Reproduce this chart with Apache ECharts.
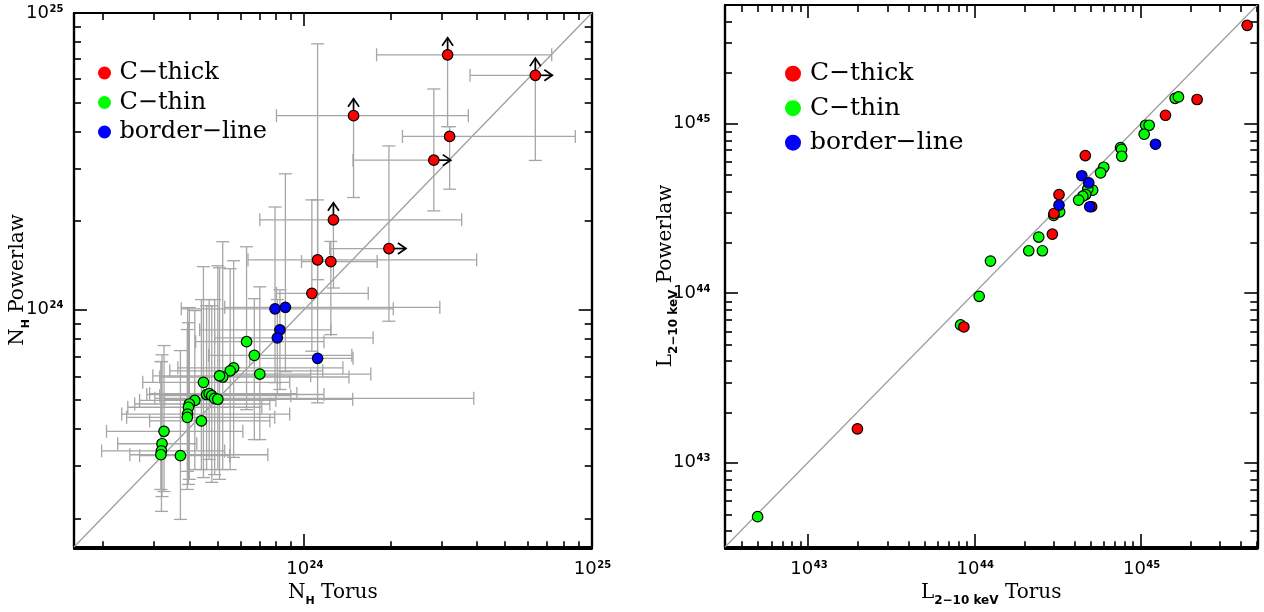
<!DOCTYPE html>
<html><head><meta charset="utf-8">
<script src="https://cdn.jsdelivr.net/npm/echarts@6/dist/echarts.min.js"></script>
<style>html,body{margin:0;padding:0;background:#fff}#c{width:1264px;height:612px}</style>
</head><body><div id="c"></div>
<script>
// ===== Left panel: log10 N_H [cm^-2], Torus model (x) vs Powerlaw (y) =====
const nhRange = [23.2, 25];
const nhMajorTicks = [24, 25];
const nhTickLabels = ['24', '25'];   // shown as 10^24, 10^25
const nhMinorTickValues = [2e23,3e23,4e23,5e23,6e23,7e23,8e23,9e23,2e24,3e24,4e24,5e24,6e24,7e24,8e24,9e24];

const nhThickTorus = [24.499, 24.804, 24.172, 24.506, 24.451, 24.102, 24.295, 24.047, 24.093, 24.027];
const nhThickPow   = [24.859, 24.790, 24.654, 24.584, 24.504, 24.303, 24.206, 24.168, 24.162, 24.055];
// [low, high]; null high = lower limit (arrow)
const nhThickTorusErr = [[24.252,24.861],[24.577,null],[23.904,24.571],[24.342,24.943],[24.170,null],[23.846,24.548],[24.089,null],[23.805,24.600],[23.991,24.254],[23.904,24.223]];
const nhThickPowErr   = [[24.617,null],[24.503,null],[24.378,null],[24.406,24.617],[24.333,24.744],[24.073,null],[23.961,24.552],[24.101,24.370],[23.916,24.230],[23.860,24.370]];

const nhThinTorus = [23.800,23.827,23.846,23.755,23.743,23.717,23.706,23.650,23.661,23.670,23.679,23.689,23.700,23.620,23.601,23.598,23.595,23.594,23.643,23.513,23.506,23.504,23.502,23.570];
const nhThinPow   = [23.892,23.846,23.783,23.804,23.794,23.773,23.777,23.755,23.714,23.717,23.710,23.701,23.698,23.694,23.682,23.671,23.648,23.637,23.625,23.590,23.548,23.524,23.511,23.508];
const nhThinTorusErr = [[23.623,24.069],[23.668,24.166],[23.717,24.232],[23.561,24.135],[23.533,24.065],[23.498,24.156],[23.474,24.023],[23.439,23.950],[23.453,24.069],[23.463,23.975],[23.498,23.954],[23.481,24.590],[23.515,24.169],[23.428,23.902],[23.411,23.881],[23.387,23.853],[23.366,23.950],[23.383,23.898],[23.463,23.881],[23.313,23.787],[23.352,23.627],[23.296,23.724],[23.394,23.874],[23.428,23.741]];
const nhThinPowErr   = [[23.663,24.212],[23.562,24.037],[23.562,24.077],[23.502,24.165],[23.461,24.138],[23.461,24.229],[23.428,24.141],[23.434,24.145],[23.461,24.013],[23.495,24.034],[23.418,24.013],[23.444,24.034],[23.461,24.148],[23.461,23.997],[23.428,24.007],[23.411,23.956],[23.455,24.007],[23.394,23.933],[23.461,24.034],[23.387,23.879],[23.370,23.848],[23.320,23.825],[23.394,23.825],[23.293,23.862]];

const nhBorderTorus = [23.899, 23.935, 23.916, 23.907, 24.047];
const nhBorderPow   = [24.003, 24.008, 23.932, 23.905, 23.836];
const nhBorderTorusErr = [[23.573,24.310],[23.724,24.472],[23.637,24.093],[23.689,24.240],[23.811,24.170]];
const nhBorderPowErr   = [[23.754,24.346],[23.791,24.458],[23.731,24.067],[23.714,24.034],[23.686,24.896]];

// ===== Right panel: log10 L(2-10 keV) [erg/s], Torus (x) vs Powerlaw (y) =====
const lRange = [42.5, 45.7];
const lMajorTicks = [43, 44, 45];
const lTickLabels = ['43', '44', '45'];
const lMinorTickValues = [4e42,5e42,6e42,7e42,8e42,9e42,2e43,3e43,4e43,5e43,6e43,7e43,8e43,9e43,2e44,3e44,4e44,5e44,6e44,7e44,8e44,9e44,2e45,3e45,4e45,5e45];

const lThickTorus = [45.639, 45.338, 45.148, 44.666, 44.508, 44.478, 44.468, 44.704, 43.936, 43.296];
const lThickPow   = [45.580, 45.142, 45.049, 44.811, 44.581, 44.469, 44.347, 44.509, 43.799, 43.198];
const lThinTorus = [45.206,45.226,45.029,45.050,45.020,44.878,44.884,44.885,44.777,44.758,44.710,44.681,44.668,44.651,44.626,44.512,44.476,44.386,44.326,44.408,44.096,44.028,43.916,42.696];
const lThinPow   = [45.149,45.157,44.990,44.990,44.937,44.858,44.848,44.807,44.742,44.709,44.607,44.615,44.581,44.571,44.548,44.479,44.458,44.330,44.249,44.249,44.188,43.980,43.811,42.679];
const lBorderTorus = [45.088, 44.645, 44.687, 44.693, 44.508];
const lBorderPow   = [44.878, 44.692, 44.650, 44.509, 44.518];

const classNames = ['C-thick', 'C-thin', 'border-line'];
const COLORS = {'C-thick': '#ff0000', 'C-thin': '#00ff00', 'border-line': '#0000ff'};

// ===== build =====
const ERR_COLOR = '#a6a6a6';
const SERIF = 'DejaVu Serif';
const nhMinorTicks = nhMinorTickValues.map(v => Math.log10(v));
const lMinorTicks = lMinorTickValues.map(v => Math.log10(v));

function mkAxis(gridIndex, position, range, tickVals, tickLen, label) {
  const ax = {
    type: 'value', gridIndex, position, min: range[0], max: range[1],
    axisLine: {show: true, onZero: false, lineStyle: {color: '#000', width: 2.2}},
    axisTick: {show: true, inside: true, length: tickLen, customValues: tickVals, lineStyle: {color: '#000', width: 1.6}},
    axisLabel: {show: false},
    splitLine: {show: false}, minorTick: {show: false}, minorSplitLine: {show: false}
  };
  if (label) {
    ax.name = label.name; ax.nameLocation = 'middle'; ax.nameGap = label.nameGap;
    ax.nameTextStyle = {fontFamily: SERIF, fontSize: 20, color: '#000', lineHeight: 28,
      rich: {h: {fontFamily: 'DejaVu Sans', fontWeight: 'bold', fontSize: label.subSize, lineHeight: 12, verticalAlign: 'bottom', color: '#000'}}};
  }
  return ax;
}
const SUBL = '2\u221210 keV';
const xAxes = [
  mkAxis(0, 'bottom', nhRange, nhMajorTicks, 13, {name: 'N{h|H} Torus', nameGap: 32, subSize: 11}),
  mkAxis(0, 'top', nhRange, nhMajorTicks, 13, null),
  mkAxis(1, 'bottom', nhRange, nhMinorTicks, 7, null),
  mkAxis(1, 'top', nhRange, nhMinorTicks, 7, null),
  mkAxis(2, 'bottom', lRange, lMajorTicks, 13, {name: 'L{h|' + SUBL + '} Torus', nameGap: 32, subSize: 12}),
  mkAxis(2, 'top', lRange, lMajorTicks, 13, null),
  mkAxis(3, 'bottom', lRange, lMinorTicks, 7, null),
  mkAxis(3, 'top', lRange, lMinorTicks, 7, null)
];
const yAxes = [
  mkAxis(0, 'left', nhRange, nhMajorTicks, 13, {name: 'N{h|H} Powerlaw', nameGap: 42, subSize: 11}),
  mkAxis(0, 'right', nhRange, nhMajorTicks, 13, null),
  mkAxis(1, 'left', nhRange, nhMinorTicks, 7, null),
  mkAxis(1, 'right', nhRange, nhMinorTicks, 7, null),
  mkAxis(2, 'left', lRange, lMajorTicks, 13, {name: 'L{h|' + SUBL + '} Powerlaw', nameGap: 45, subSize: 12}),
  mkAxis(2, 'right', lRange, lMajorTicks, 13, null),
  mkAxis(3, 'left', lRange, lMinorTicks, 7, null),
  mkAxis(3, 'right', lRange, lMinorTicks, 7, null)
];

// tick labels "10^n" placed at the major tick positions via the axis scale
const BASE_FONT = {font: 'normal 18px "DejaVu Sans", sans-serif', fontSize: 18, fontFamily: 'DejaVu Sans', fill: '#000'};
const SUP_FONT = {font: 'bold 10px "DejaVu Sans", sans-serif', fontSize: 10, fontWeight: 'bold', fontFamily: 'DejaVu Sans', fill: '#000'};
function tickLabelSeries(axisIdx, range, ticks, labels, xMargin, yMargin) {
  return {
    type: 'custom', xAxisIndex: axisIdx, yAxisIndex: axisIdx, z: 5, silent: true, clip: false,
    data: ticks.map((t, i) => [t, t, i]),
    renderItem: (params, api) => {
      const i = params.dataIndex;
      const t = ticks[i];
      const px = api.coord([t, range[0]]);
      const py = api.coord([range[0], t]);
      const sup = labels[i];
      const bx = px[0] + 5, by = px[1] + xMargin;   // x-axis label (centred under tick)
      const lx = py[0] - yMargin - 13, ly = py[1];  // y-axis label
      return {type: 'group', children: [
        {type: 'text', x: bx, y: by + 10, style: Object.assign({text: '10', align: 'right', verticalAlign: 'middle'}, BASE_FONT)},
        {type: 'text', x: bx + 0.5, y: by + 6, style: Object.assign({text: sup, align: 'left', verticalAlign: 'middle'}, SUP_FONT)},
        {type: 'text', x: lx, y: ly, style: Object.assign({text: '10', align: 'right', verticalAlign: 'middle'}, BASE_FONT)},
        {type: 'text', x: lx + 0.5, y: ly - 4, style: Object.assign({text: sup, align: 'left', verticalAlign: 'middle'}, SUP_FONT)}
      ]};
    }
  };
}

function errSeries(axisIdx, xs, ys, xErr, yErr) {
  const cap = 6.5;
  return {
    type: 'custom', xAxisIndex: axisIdx, yAxisIndex: axisIdx, z: 2, silent: true, clip: false,
    data: xs.map((x, i) => [x, ys[i]]),
    renderItem: (params, api) => {
      const i = params.dataIndex;
      const x = xs[i], y = ys[i];
      const p = api.coord([x, y]);
      const st = {stroke: ERR_COLOR, lineWidth: 1.3, fill: null};
      const els = [];
      const [xl, xh] = xErr[i], [yl, yh] = yErr[i];
      const a = xl == null ? p : api.coord([xl, y]);
      const b = xh == null ? p : api.coord([xh, y]);
      els.push({type: 'line', shape: {x1: a[0], y1: a[1], x2: b[0], y2: b[1]}, style: st});
      if (xl != null) els.push({type: 'line', shape: {x1: a[0], y1: a[1] - cap, x2: a[0], y2: a[1] + cap}, style: st});
      if (xh != null) els.push({type: 'line', shape: {x1: b[0], y1: b[1] - cap, x2: b[0], y2: b[1] + cap}, style: st});
      const c = yl == null ? p : api.coord([x, yl]);
      const d = yh == null ? p : api.coord([x, yh]);
      els.push({type: 'line', shape: {x1: c[0], y1: c[1], x2: d[0], y2: d[1]}, style: st});
      if (yl != null) els.push({type: 'line', shape: {x1: c[0] - cap, y1: c[1], x2: c[0] + cap, y2: c[1]}, style: st});
      if (yh != null) els.push({type: 'line', shape: {x1: d[0] - cap, y1: d[1], x2: d[0] + cap, y2: d[1]}, style: st});
      return {type: 'group', children: els};
    }
  };
}
function arrowSeries(axisIdx, xs, ys, xErr, yErr) {
  const L = 17, H = 8, W = 5.5;
  return {
    type: 'custom', xAxisIndex: axisIdx, yAxisIndex: axisIdx, z: 3, silent: true, clip: false,
    data: xs.map((x, i) => [x, ys[i]]),
    renderItem: (params, api) => {
      const i = params.dataIndex;
      const p = api.coord([xs[i], ys[i]]);
      const st = {stroke: '#000', lineWidth: 1.7, fill: null};
      const els = [];
      if (yErr[i][1] == null) {
        els.push({type: 'line', shape: {x1: p[0], y1: p[1], x2: p[0], y2: p[1] - L}, style: st});
        els.push({type: 'polyline', shape: {points: [[p[0] - W, p[1] - L + H], [p[0], p[1] - L], [p[0] + W, p[1] - L + H]]}, style: st});
      }
      if (xErr[i][1] == null) {
        els.push({type: 'line', shape: {x1: p[0], y1: p[1], x2: p[0] + L, y2: p[1]}, style: st});
        els.push({type: 'polyline', shape: {points: [[p[0] + L - H, p[1] - W], [p[0] + L, p[1]], [p[0] + L - H, p[1] + W]]}, style: st});
      }
      return {type: 'group', children: els};
    }
  };
}
function scatter(axisIdx, name, xs, ys) {
  return {
    type: 'scatter', name, xAxisIndex: axisIdx, yAxisIndex: axisIdx, z: 4,
    symbol: 'circle', symbolSize: 10.5,
    itemStyle: {color: COLORS[name], borderColor: '#000', borderWidth: 1.2, opacity: 1},
    emphasis: {disabled: true},
    data: xs.map((x, i) => [x, ys[i]])
  };
}
function diag(axisIdx, range) {
  return {type: 'line', xAxisIndex: axisIdx, yAxisIndex: axisIdx, z: 1, silent: true, symbol: 'none',
    lineStyle: {color: '#9c9c9c', width: 1.2}, data: [[range[0], range[0]], [range[1], range[1]]]};
}

const series = [
  diag(0, nhRange),
  errSeries(0, nhThinTorus, nhThinPow, nhThinTorusErr, nhThinPowErr),
  errSeries(0, nhThickTorus, nhThickPow, nhThickTorusErr, nhThickPowErr),
  errSeries(0, nhBorderTorus, nhBorderPow, nhBorderTorusErr, nhBorderPowErr),
  arrowSeries(0, nhThickTorus, nhThickPow, nhThickTorusErr, nhThickPowErr),
  scatter(0, 'C-thin', nhThinTorus, nhThinPow),
  scatter(0, 'C-thick', nhThickTorus, nhThickPow),
  scatter(0, 'border-line', nhBorderTorus, nhBorderPow),
  tickLabelSeries(0, nhRange, nhMajorTicks, nhTickLabels, 12, 12),
  diag(4, lRange),
  scatter(4, 'C-thin', lThinTorus, lThinPow),
  scatter(4, 'C-thick', lThickTorus, lThickPow),
  scatter(4, 'border-line', lBorderTorus, lBorderPow),
  tickLabelSeries(4, lRange, lMajorTicks, lTickLabels, 12, 16)
];

function legend(left, top, iw, ih, gap, fs, lh) {
  return {
    data: classNames, orient: 'vertical', left, top, itemWidth: iw, itemHeight: ih, itemGap: gap,
    icon: 'circle', selectedMode: false, itemStyle: {borderWidth: 0},
    formatter: n => n.replace('-', '\u2212'),
    textStyle: {fontFamily: SERIF, fontSize: fs, lineHeight: lh, color: '#000'}
  };
}

const chart = echarts.init(document.getElementById('c'), null, {renderer: 'canvas'});
chart.setOption({
  animation: false,
  backgroundColor: '#fff',
  grid: [
    {left: 74, top: 13, width: 517.7, height: 535.3},
    {left: 74, top: 13, width: 517.7, height: 535.3},
    {left: 725, top: 5, width: 532.3, height: 543.3},
    {left: 725, top: 5, width: 532.3, height: 543.3}
  ],
  xAxis: xAxes,
  yAxis: yAxes,
  legend: [legend(93, 56, 20, 13, 5.5, 24, 24), legend(780, 55.7, 24, 16, 8.5, 25, 26)],
  series
});
</script></body></html>
